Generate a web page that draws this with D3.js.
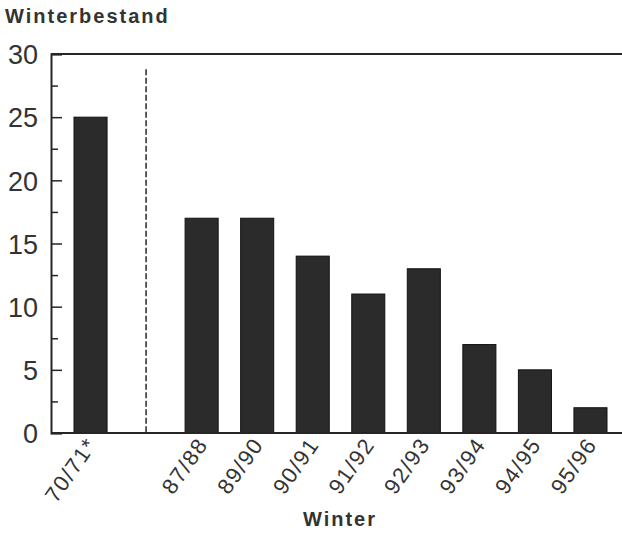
<!DOCTYPE html>
<html><head><meta charset="utf-8">
<script src="https://cdn.jsdelivr.net/npm/d3@7"></script>
<style>body{margin:0;background:#fff}</style>
</head><body>
<script>
const categories = ["70/71*", "", "87/88", "89/90", "90/91", "91/92", "92/93", "93/94", "94/95", "95/96"];
const values = [25, null, 17, 17, 14, 11, 13, 7, 5, 2];
const yTicks = [0, 5, 10, 15, 20, 25, 30];
const yMinorTicks = [2.5, 7.5, 12.5, 17.5, 22.5, 27.5];
const yTitle = "Winterbestand";
const xTitle = "Winter";

const W = 622, H = 538;
const svg = d3.select("body").append("svg").attr("width", W).attr("height", H);
const x = d3.scaleBand().domain(categories).range([62.9, 618.1]).paddingInner(0.405).paddingOuter(0.2);
const y = d3.scaleLinear().domain([0, 30]).range([433, 54]);
const axL = 51, axR = 622;
const ink = "#262626";

// bars
svg.selectAll("rect.bar").data(categories.map((c, i) => ({c, v: values[i]})).filter(d => d.v != null))
  .enter().append("rect").attr("class", "bar")
  .attr("x", d => x(d.c)).attr("width", x.bandwidth())
  .attr("y", d => y(d.v)).attr("height", d => y(0) - y(d.v))
  .attr("fill", "#2b2b2b").attr("stroke", "#111").attr("stroke-width", 1);

// dashed separator in empty slot
svg.append("line").attr("x1", x("") + x.bandwidth() / 2).attr("x2", x("") + x.bandwidth() / 2)
  .attr("y1", y(28.8)).attr("y2", y(0)).attr("stroke", ink).attr("stroke-width", 1.5)
  .attr("stroke-dasharray", "6,2.5");

// frame lines
svg.append("line").attr("x1", axL).attr("x2", axR).attr("y1", y(30)).attr("y2", y(30)).attr("stroke", ink).attr("stroke-width", 2);
svg.append("line").attr("x1", axL).attr("x2", axR).attr("y1", y(0)).attr("y2", y(0)).attr("stroke", ink).attr("stroke-width", 2);

// y axis
const yAxis = d3.axisLeft(y).tickValues(yTicks).tickSize(-11).tickPadding(13).tickFormat(d3.format("d"));
const gy = svg.append("g").attr("transform", `translate(${axL},0)`).call(yAxis);
gy.select(".domain").attr("stroke", ink).attr("stroke-width", 2);
gy.selectAll(".tick line").attr("stroke", ink).attr("stroke-width", 1.5);
gy.selectAll(".tick text").attr("font-family", "Liberation Sans, Arial, sans-serif").attr("font-size", 27).attr("fill", "#333").attr("dy", "0.36em");
const gyMinor = svg.append("g").attr("transform", `translate(${axL},0)`)
  .call(d3.axisLeft(y).tickValues(yMinorTicks).tickSize(-7).tickFormat(""));
gyMinor.select(".domain").remove();
gyMinor.selectAll(".tick line").attr("stroke", ink).attr("stroke-width", 1.5);

// x axis labels
const gx = svg.append("g").attr("transform", `translate(0,${y(0)})`)
  .call(d3.axisBottom(x).tickSize(0).tickFormat(d => d));
gx.select(".domain").remove();
gx.selectAll(".tick text")
  .attr("font-family", "Liberation Sans, Arial, sans-serif").attr("font-size", 22).attr("fill", "#333")
  .attr("letter-spacing", "1.5px")
  .attr("text-anchor", "end").attr("dy", "0.35em")
  .attr("transform", "translate(1,7) rotate(-55)")
  .attr("y", 0).attr("x", 0);

// titles
svg.append("text").attr("x", 5).attr("y", 23).text(yTitle)
  .attr("font-family", "Liberation Sans, Arial, sans-serif").attr("font-weight", "bold")
  .attr("font-size", 20).attr("letter-spacing", "2px").attr("fill", "#333");
svg.append("text").attr("x", 340).attr("y", 526).attr("text-anchor", "middle").text(xTitle)
  .attr("font-family", "Liberation Sans, Arial, sans-serif").attr("font-weight", "bold")
  .attr("font-size", 20).attr("letter-spacing", "2px").attr("fill", "#333");
</script>
</body></html>
